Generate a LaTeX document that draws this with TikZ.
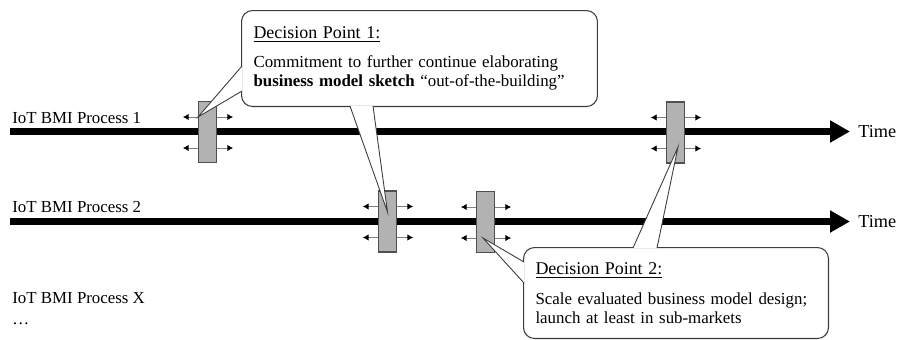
\documentclass[tikz,border=0pt]{standalone}
\usepackage{fontspec}
\setmainfont{Liberation Serif}
\usetikzlibrary{arrows.meta,calc}
\definecolor{gatefill}{HTML}{B2B2B2}
\definecolor{gateline}{HTML}{505050}
\definecolor{boxline}{HTML}{3C3C3C}
\newcommand{\dptitle}[1]{{\fontsize{10.2}{10.8}\selectfont\underline{#1}}}
\tikzset{
  timeline/.style={line width=0.14cm,-{Triangle[length=0.4cm,width=0.42cm]}},
  gate/.style={draw=gateline,fill=gatefill,line width=0.6pt,minimum width=0.36cm,minimum height=1.22cm,inner sep=0pt},
  slide/.style={draw=gray,line width=0.4pt,-{Latex[length=3.2pt,width=3.6pt,color=black]}},
  callout/.style={draw=boxline,fill=white,rounded corners=0.22cm,line width=0.6pt,align=left,anchor=north west,inner xsep=0.24cm,inner ysep=0pt,font=\fontsize{9.6}{10.8}\selectfont},
  wedge/.style={draw=boxline,line width=0.5pt,fill=white},
  proc/.style={anchor=west,inner sep=0pt,font=\fontsize{9.6}{12}\selectfont},
  timelabel/.style={anchor=west,inner sep=0pt,font=\fontsize{10.4}{12}\selectfont}
}
\begin{document}
\begin{tikzpicture}[x=0.02cm,y=-0.02cm]
    \useasboundingbox (0,0) rectangle (900,339);
    %% process labels
    \node[proc] (p1) at (12,118) {IoT BMI Process 1};
    \node[proc] (p2) at (12,207) {IoT BMI Process 2};
    \node[proc] (px) at (12,298) {IoT BMI Process X};
    \node[proc] (dots) at (12,324) {\dots};
    %% time axes
    \coordinate (s1) at (10,131.5);
    \coordinate (e1) at (850,131.5);
    \coordinate (s2) at (10,221.5);
    \coordinate (e2) at (850,221.5);
    \draw[timeline] (s1) -- (e1);
    \draw[timeline] (s2) -- (e2);
    \node[timelabel] (t1) at (858,132) {Time};
    \node[timelabel] (t2) at (858,222) {Time};
    %% decision points
    \node[gate] (g11) at (207.5,132) {};
    \node[gate] (g12) at (675.5,132.5) {};
    \node[gate] (g21) at (387.5,221.5) {};
    \node[gate] (g22) at (485.5,222) {};
    \foreach \g in {g11,g12,g21,g22} {
        \foreach \dy in {-15,16} {
            \draw[slide] ($(\g.west)+(0,\dy)$) -- ++(-15,0);
            \draw[slide] ($(\g.east)+(0,\dy)$) -- ++(16,0);
        }
    }
    %% callouts
    \node[callout,text width=6.64cm,minimum height=1.92cm] (dp1) at (241,10)
        {\dptitle{Decision Point 1:}\\[6pt]
         Commitment to further continue elaborating\\
         \textbf{business model sketch} ``out-of-the-building''};
    \node[callout,text width=5.62cm,minimum height=1.82cm] (dp2) at (523,247)
        {\dptitle{Decision Point 2:}\\[6pt]
         Scale evaluated business model design;\\
         launch at least in sub-markets};
    \coordinate (tipA) at ($(g11.west)+(0,-15)$);
    \coordinate (tipB) at ($(g21.center)+(0,-9.5)$);
    \coordinate (tipC) at ($(g22.center)+(-2.5,16)$);
    \coordinate (tipD) at ($(g12.center)+(2.5,14.5)$);
    \filldraw[wedge] ($(dp1.south west)+(1,-41)$) -- (tipA) -- ($(dp1.south west)+(1,-16)$);
    \filldraw[wedge] ($(dp1.south west)+(109,-1)$) -- (tipB) -- ($(dp1.south west)+(132,-1)$);
    \filldraw[wedge] ($(dp2.north west)+(1,15)$) -- (tipC) -- ($(dp2.north west)+(1,36)$);
    \filldraw[wedge] ($(dp2.north west)+(110,1)$) -- (tipD) -- ($(dp2.north west)+(134,1)$);
\end{tikzpicture}
\end{document}
